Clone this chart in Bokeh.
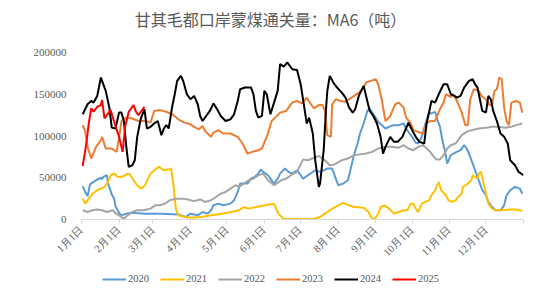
import math
from bokeh.plotting import figure
from bokeh.layouts import column
from bokeh.models import Range1d, FixedTicker, Legend, LegendItem, BasicTickFormatter, Label
from bokeh.embed import file_html
from bokeh.resources import INLINE

TITLE = "甘其毛都口岸蒙煤通关量：MA6（吨）"

# x axis: day of year, month starts
month_days = [0, 31, 59, 90, 120, 151, 181, 212, 243, 273, 304, 334, 365]
month_labels = ["1月1日", "2月1日", "3月1日", "4月1日", "5月1日", "6月1日",
                "7月1日", "8月1日", "9月1日", "10月1日", "11月1日", "12月1日", ""]
y_ticks = [0, 50000, 100000, 150000, 200000]

years = ["2020", "2021", "2022", "2023", "2024", "2025"]
colors = ["#5B9BD5", "#FFC000", "#A5A5A5", "#ED7D31", "#000000", "#FF0000"]

days_2020 = [1, 3, 5, 7, 10, 12, 16, 17, 18, 21,
             22, 25, 27, 28, 31, 33, 37, 41, 53, 66,
             80, 86, 90, 96, 100, 104, 107, 109, 113, 117,
             123, 126, 129, 131, 137, 140, 143, 146, 148, 150,
             154, 156, 159, 162, 164, 168, 171, 174, 178, 181,
             183, 187, 191, 193, 197, 203, 207, 210, 212, 216,
             220, 222, 225, 228, 230, 233, 236, 238, 240, 243,
             245, 248, 251, 254, 258, 262, 266, 268, 273, 276,
             278, 281, 284, 287, 289, 292, 294, 296, 298, 300,
             302, 305, 307, 310, 313, 316, 318, 320, 322, 325,
             327, 329, 331, 334, 336, 339, 342, 346, 349, 351,
             354, 358, 362, 364]
vals_2020 = [40000, 33000, 28000, 42000, 45000, 47000, 50000, 48000, 51000, 53000,
             43000, 30000, 25000, 16000, 8000, 5000, 7000, 8000, 7000, 7000,
             6000, 3000, 7000, 5000, 9000, 7000, 11000, 17000, 19000, 17000,
             19000, 23000, 33000, 43000, 43000, 49000, 51000, 55000, 60000, 57000,
             53000, 49000, 43000, 49000, 55000, 61000, 57000, 55000, 59000, 53000,
             49000, 53000, 57000, 59000, 57000, 61000, 61000, 49000, 41000, 43000,
             47000, 59000, 77000, 91000, 103000, 115000, 130000, 133000, 128000, 122000,
             117000, 113000, 109000, 111000, 113000, 113000, 115000, 109000, 99000, 92000,
             91000, 99000, 115000, 128000, 127000, 129000, 119000, 111000, 95000, 83000,
             67000, 77000, 79000, 81000, 83000, 89000, 85000, 79000, 71000, 59000,
             51000, 43000, 35000, 29000, 21000, 15000, 11000, 11000, 17000, 29000,
             35000, 39000, 37000, 31000]

days_2021 = [1, 3, 5, 7, 10, 13, 16, 19, 22, 24,
             27, 30, 32, 35, 38, 40, 43, 46, 49, 52,
             54, 57, 61, 64, 68, 72, 74, 76, 78, 80,
             85, 90, 99, 107, 116, 124, 130, 134, 138, 144,
             152, 159, 161, 163, 167, 177, 192, 197, 201, 206,
             211, 216, 221, 225, 233, 237, 239, 242, 245, 247,
             250, 254, 258, 262, 266, 269, 272, 274, 276, 278,
             281, 284, 287, 289, 292, 295, 297, 301, 303, 306,
             309, 311, 314, 315, 317, 319, 322, 323, 325, 327,
             328, 330, 332, 334, 336, 339, 342, 347, 353, 358,
             362, 364]
vals_2021 = [25000, 19000, 23000, 27000, 32000, 35000, 37000, 39000, 45000, 53000,
             55000, 51000, 51000, 52000, 55000, 54000, 47000, 41000, 37000, 40000,
             46000, 55000, 60000, 63000, 59000, 60000, 61000, 40000, 12000, 5000,
             3000, 2000, 3000, 5000, 7000, 9000, 11000, 15000, 13000, 15000,
             17000, 19000, 12000, 6000, 1000, 500, 1000, 3000, 7000, 12000,
             16000, 20000, 17000, 15000, 14000, 9000, 3000, 0, 7000, 15000,
             17000, 13000, 7000, 9000, 11000, 11000, 19000, 19000, 13000, 9000,
             19000, 21000, 23000, 29000, 35000, 45000, 35000, 29000, 23000, 21000,
             23000, 27000, 31000, 39000, 41000, 43000, 47000, 53000, 51000, 49000,
             55000, 57000, 43000, 31000, 19000, 13000, 11000, 11000, 12000, 12000,
             11000, 10000]

days_2022 = [1, 5, 9, 13, 17, 21, 26, 28, 31, 35,
             38, 42, 46, 51, 57, 61, 65, 69, 73, 78,
             84, 88, 93, 98, 102, 107, 111, 115, 119, 123,
             127, 130, 134, 138, 142, 146, 150, 154, 159, 161,
             165, 169, 173, 178, 181, 183, 187, 192, 196, 201,
             205, 209, 215, 220, 225, 230, 235, 240, 245, 251,
             256, 262, 266, 270, 274, 278, 282, 285, 288, 291,
             293, 296, 299, 302, 305, 309, 311, 314, 318, 322,
             328, 334, 339, 344, 350, 355, 359, 364]
vals_2022 = [11000, 9000, 11000, 12000, 11000, 9000, 11000, 7500, 5000, 1000,
             5000, 9000, 11000, 11000, 13000, 17000, 17000, 19000, 23000, 25000,
             25000, 24000, 22000, 24000, 21000, 23000, 27000, 31000, 33000, 37000,
             41000, 39000, 43000, 47000, 49000, 53000, 55000, 47000, 41000, 43000,
             47000, 49000, 53000, 57000, 66000, 72000, 71000, 74000, 76000, 71000,
             65000, 66000, 71000, 73000, 77000, 78000, 79000, 81000, 85000, 87000,
             87000, 86000, 89000, 85000, 83000, 87000, 89000, 85000, 81000, 75000,
             72000, 72000, 77000, 85000, 89000, 91000, 95000, 101000, 105000, 107000,
             109000, 110000, 111000, 111000, 110000, 111000, 113000, 115000]

days_2023 = [1, 3, 5, 8, 12, 16, 17, 20, 25, 29,
             31, 33, 37, 42, 47, 53, 57, 60, 65, 70,
             75, 80, 85, 90, 93, 97, 100, 102, 107, 109,
             113, 117, 123, 129, 133, 137, 141, 146, 149, 154,
             157, 160, 164, 169, 174, 178, 182, 186, 188, 192,
             196, 199, 201, 203, 206, 207, 210, 214, 218, 223,
             229, 233, 235, 239, 243, 245, 248, 251, 255, 259,
             262, 266, 268, 272, 274, 278, 282, 285, 288, 292,
             296, 299, 301, 305, 307, 310, 314, 317, 319, 321,
             324, 328, 331, 334, 337, 339, 341, 343, 345, 347,
             349, 351, 353, 355, 359, 362, 364]
vals_2023 = [113000, 106000, 87000, 73000, 87000, 95000, 99000, 85000, 85000, 81000,
             98000, 118000, 122000, 121000, 118000, 118000, 116000, 130000, 131000, 129000,
             126000, 120000, 116000, 114000, 111000, 108000, 112000, 106000, 99000, 104000,
             107000, 103000, 103000, 99000, 91000, 79000, 81000, 83000, 85000, 103000,
             118000, 122000, 128000, 130000, 140000, 142000, 139000, 146000, 141000, 133000,
             137000, 137000, 130000, 101000, 99000, 138000, 144000, 142000, 141000, 146000,
             152000, 158000, 164000, 166000, 168000, 162000, 143000, 118000, 124000, 138000,
             140000, 134000, 122000, 115000, 107000, 105000, 103000, 115000, 118000, 118000,
             132000, 140000, 150000, 147000, 150000, 142000, 128000, 113000, 113000, 144000,
             156000, 154000, 147000, 144000, 137000, 137000, 154000, 156000, 170000, 168000,
             134000, 118000, 113000, 140000, 142000, 140000, 128000]

days_2024 = [1, 5, 8, 10, 13, 16, 20, 23, 25, 28,
             31, 33, 35, 37, 39, 42, 44, 46, 49, 52,
             54, 57, 60, 63, 66, 68, 70, 72, 75, 77,
             79, 82, 84, 87, 90, 93, 96, 98, 100, 103,
             106, 109, 112, 115, 119, 123, 126, 129, 131, 135,
             140, 142, 144, 146, 149, 151, 153, 156, 159, 162,
             164, 167, 170, 174, 178, 181, 184, 186, 188, 191,
             193, 196, 197, 200, 202, 203, 205, 208, 211, 215,
             218, 221, 224, 226, 229, 233, 235, 238, 241, 244,
             247, 249, 251, 255, 258, 261, 265, 270, 273, 276,
             279, 283, 285, 289, 292, 295, 299, 302, 305, 308,
             310, 313, 316, 320, 323, 325, 327, 331, 334, 336,
             338, 340, 343, 346, 349, 352, 354, 358, 361, 365]
vals_2024 = [126000, 138000, 142000, 140000, 148000, 170000, 154000, 134000, 110000, 109000,
             128000, 128000, 118000, 87000, 63000, 65000, 71000, 99000, 121000, 132000,
             109000, 111000, 115000, 118000, 101000, 109000, 113000, 109000, 136000, 150000,
             166000, 172000, 166000, 150000, 144000, 148000, 138000, 124000, 118000, 124000,
             130000, 139000, 132000, 124000, 118000, 120000, 126000, 142000, 156000, 158000,
             158000, 150000, 130000, 122000, 124000, 154000, 150000, 126000, 140000, 154000,
             186000, 183000, 188000, 180000, 179000, 162000, 134000, 115000, 122000, 103000,
             71000, 39000, 43000, 83000, 134000, 154000, 172000, 164000, 158000, 152000,
             146000, 134000, 128000, 132000, 148000, 160000, 148000, 130000, 124000, 115000,
             99000, 79000, 87000, 99000, 93000, 93000, 99000, 116000, 107000, 99000,
             93000, 91000, 115000, 142000, 140000, 150000, 162000, 162000, 150000, 148000,
             146000, 148000, 158000, 166000, 168000, 162000, 158000, 130000, 128000, 148000,
             144000, 130000, 118000, 103000, 99000, 91000, 71000, 65000, 57000, 53000]

days_2025 = [1, 4, 6, 8, 10, 13, 16, 17, 19, 22,
             24, 27, 31, 34, 36, 39, 43, 45, 47, 50, 52]
vals_2025 = [64000, 91000, 115000, 133000, 129000, 135000, 137000, 143000, 121000, 127000,
             131000, 117000, 99000, 81000, 111000, 129000, 137000, 129000, 125000, 131000, 135000]

series_days = [days_2020, days_2021, days_2022, days_2023, days_2024, days_2025]
series_vals = [vals_2020, vals_2021, vals_2022, vals_2023, vals_2024, vals_2025]

TEXT_COLOR = "#595959"
AXIS_COLOR = "#D9D9D9"
LABEL_FONT = "Liberation Serif"
TITLE_H = 30
LEGEND_H = 25
MAIN_H = 294 - TITLE_H - LEGEND_H


def strip(height):
    f = figure(width=560, height=height, output_backend="svg", toolbar_location=None,
               x_range=Range1d(0, 1), y_range=Range1d(0, 1),
               x_axis_type=None, y_axis_type=None,
               min_border_left=0, min_border_right=0, min_border_top=0, min_border_bottom=0)
    f.outline_line_color = None
    f.xgrid.visible = False
    f.ygrid.visible = False
    f.border_fill_color = "white"
    return f


# title strip
tf = strip(TITLE_H)
tf.add_layout(Label(x=0.4276, y=0.37, text=TITLE, text_align="center",
                    text_baseline="middle", text_font="Noto Sans CJK SC",
                    text_font_size="16px", text_color=TEXT_COLOR))

# main chart
p = figure(width=560, height=MAIN_H, output_backend="svg", toolbar_location=None,
           x_range=Range1d(0, 365), y_range=Range1d(0, 200000),
           min_border_left=81, min_border_right=37, min_border_top=52 - TITLE_H,
           min_border_bottom=294 - LEGEND_H - 219)
p.outline_line_color = None
p.xgrid.visible = False
p.ygrid.visible = False
p.background_fill_color = "white"
p.border_fill_color = "white"

xa = p.xaxis[0]
xa.ticker = FixedTicker(ticks=month_days)
xa.major_label_overrides = {d: lbl for d, lbl in zip(month_days, month_labels)}
xa.major_label_orientation = math.pi / 4
xa.major_label_text_font = LABEL_FONT
xa.major_label_text_font_size = "10.5px"
xa.major_label_text_color = TEXT_COLOR
xa.axis_line_color = AXIS_COLOR
xa.major_tick_line_color = AXIS_COLOR
xa.major_tick_out = 4
xa.major_tick_in = 0
xa.minor_tick_line_color = None
xa.major_label_standoff = 4

ya = p.yaxis[0]
ya.ticker = FixedTicker(ticks=y_ticks)
ya.formatter = BasicTickFormatter(use_scientific=False)
ya.axis_line_color = None
ya.major_tick_line_color = None
ya.minor_tick_line_color = None
ya.major_label_text_font = LABEL_FONT
ya.major_label_text_font_size = "11px"
ya.major_label_text_color = TEXT_COLOR
ya.major_label_standoff = 9

for yr, col, dd, vv in zip(years, colors, series_days, series_vals):
    p.line(dd, vv, line_color=col, line_width=2)

# legend strip below the chart
lg = strip(LEGEND_H)
items = []
for yr, col in zip(years, colors):
    r = lg.line([-1], [-1], line_color=col, line_width=2)
    items.append(LegendItem(label=yr, renderers=[r]))

legend = Legend(items=items, orientation="horizontal", location=(21, 10),
                spacing=11, padding=0, margin=0, border_line_color=None,
                background_fill_alpha=0, glyph_width=24, glyph_height=10,
                label_standoff=2, label_height=10,
                label_text_font=LABEL_FONT, label_text_font_size="10.5px",
                label_text_color=TEXT_COLOR)
lg.add_layout(legend)

layout = column(tf, p, lg, spacing=0)
open("out.html", "w").write(file_html(layout, INLINE))
